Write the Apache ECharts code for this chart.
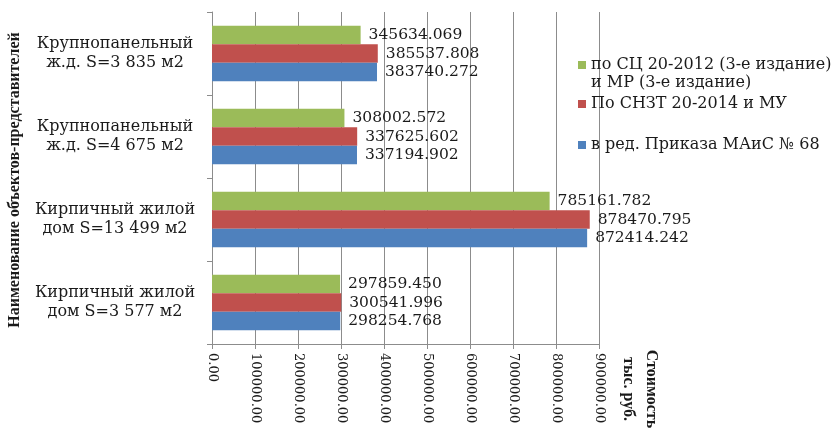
<!DOCTYPE html>
<html>
<head>
<meta charset="utf-8">
<script src="https://cdn.jsdelivr.net/npm/echarts@6/dist/echarts.min.js"></script>
<style>
  html, body { margin: 0; padding: 0; background: #fff; }
  #chart { width: 838px; height: 432px; }
</style>
</head>
<body>
<div id="chart"></div>
<script>
var categories = [
    'Кирпичный жилой\nдом S=3 577 м2',
    'Кирпичный жилой\nдом S=13 499 м2',
    'Крупнопанельный\nж.д. S=4 675 м2',
    'Крупнопанельный\nж.д. S=3 835 м2'
];
var seriesNames = [
    'в ред. Приказа МАиС № 68',
    'По СНЗТ 20-2014 и МУ',
    'по СЦ 20-2012 (3-е издание)\nи МР (3-е издание)'
];
var blueValues = [298254.768, 872414.242, 337194.902, 383740.272];
var redValues = [300541.996, 878470.795, 337625.602, 385537.808];
var greenValues = [297859.450, 785161.782, 308002.572, 345634.069];
var xTicks = { min: 0, max: 900000, step: 100000 };

var serif = "'DejaVu Serif', serif";
var timesBold = "'Liberation Serif', 'Times New Roman', serif";
var gray = '#8c8c8c';
var colors = ['#4F81BD', '#C0504D', '#9BBB59'];

var chart = echarts.init(document.getElementById('chart'), null, {renderer: 'canvas'});

function barSeries(name, data, color) {
    return {
        name: name,
        type: 'bar',
        data: data,
        barGap: '0%',
        barCategoryGap: '33%',
        itemStyle: { color: color },
        label: {
            show: true,
            position: 'right',
            distance: 8,
            fontFamily: serif,
            fontSize: 15.5,
            color: '#1a1a1a',
            formatter: function (p) { return p.value.toFixed(3); }
        }
    };
}

function legendAt(name, top, icon, h) {
    return {
        data: [name],
        left: 578,
        top: top,
        orient: 'vertical',
        padding: 0,
        itemWidth: 8,
        itemHeight: h,
        icon: icon,
        symbolKeepAspect: false,
        selectedMode: false,
        textStyle: { fontFamily: serif, fontSize: 16, color: '#1a1a1a', lineHeight: 18 }
    };
}

var option = {
    backgroundColor: '#fff',
    animation: false,
    grid: { left: 212, right: 239, top: 12, bottom: 88 },
    legend: [
        legendAt(seriesNames[2], 56, 'path://M0,0h10v10h-10zM0,32.4h0.1v0.1h-0.1z', 26),
        legendAt(seriesNames[1], 95, 'rect', 8),
        legendAt(seriesNames[0], 136, 'rect', 8)
    ],
    xAxis: {
        type: 'value',
        min: xTicks.min,
        max: xTicks.max,
        interval: xTicks.step,
        axisLine: { show: true, lineStyle: { color: gray } },
        axisTick: { show: true, length: 5, lineStyle: { color: gray } },
        splitLine: { show: true, lineStyle: { color: gray, width: 1 } },
        axisLabel: {
            rotate: -90,
            margin: 9,
            fontFamily: serif,
            fontSize: 13,
            color: '#1a1a1a',
            formatter: function (v) { return v.toFixed(2); }
        }
    },
    yAxis: {
        type: 'category',
        data: categories,
        axisLine: { show: true, lineStyle: { color: gray } },
        axisTick: { show: true, length: 5, lineStyle: { color: gray } },
        splitLine: { show: false },
        axisLabel: {
            align: 'center',
            margin: 97,
            fontFamily: serif,
            fontSize: 16,
            lineHeight: 19,
            color: '#1a1a1a'
        }
    },
    graphic: [
        {
            type: 'text',
            x: 15,
            y: 180,
            rotation: Math.PI / 2,
            style: {
                text: 'Наименование объектов-представителей',
                fontFamily: timesBold,
                fontWeight: 'bold',
                fontSize: 16,
                fill: '#1a1a1a',
                align: 'center',
                verticalAlign: 'middle'
            }
        },
        {
            type: 'text',
            x: 640,
            y: 389,
            rotation: -Math.PI / 2,
            style: {
                text: 'Стоимость\nтыс. руб.',
                fontFamily: timesBold,
                fontWeight: 'bold',
                fontSize: 16,
                lineHeight: 23,
                fill: '#1a1a1a',
                align: 'center',
                verticalAlign: 'middle'
            }
        }
    ],
    series: [
        barSeries(seriesNames[2], greenValues, colors[2]),
        barSeries(seriesNames[1], redValues, colors[1]),
        barSeries(seriesNames[0], blueValues, colors[0])
    ]
};

chart.setOption(option);
</script>
</body>
</html>
